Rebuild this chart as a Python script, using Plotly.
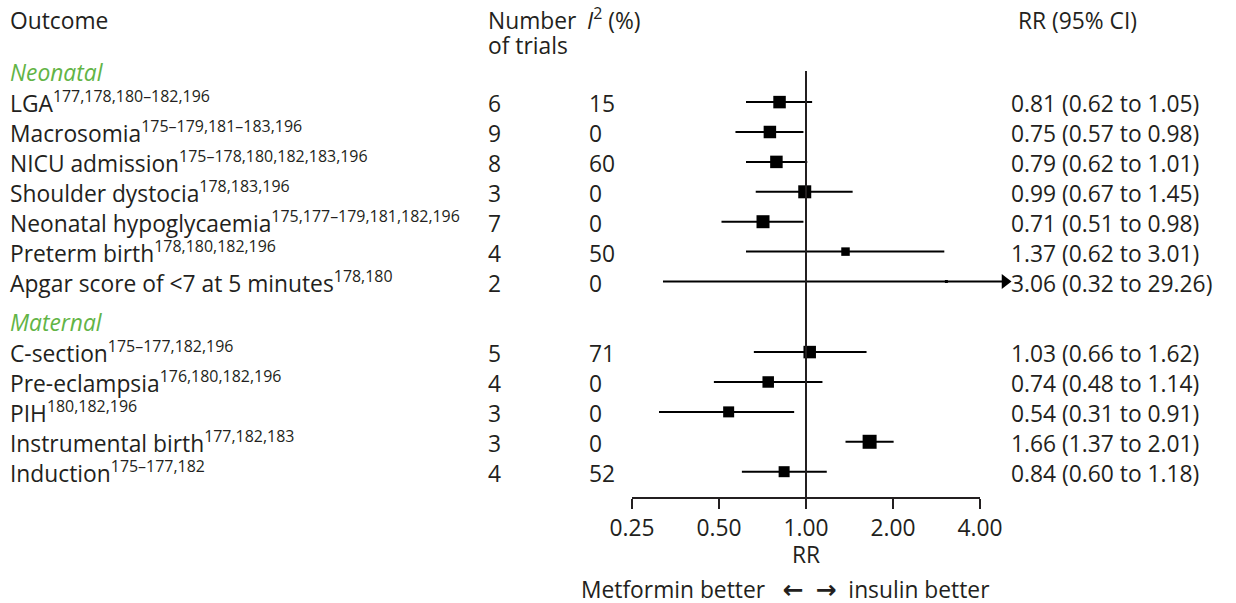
import math
import plotly.graph_objects as go

# ---------------- data ----------------
outcomes = ["LGA", "Macrosomia", "NICU admission", "Shoulder dystocia",
            "Neonatal hypoglycaemia", "Preterm birth", "Apgar score of &lt;7 at 5 minutes",
            "C-section", "Pre-eclampsia", "PIH", "Instrumental birth", "Induction"]
refs = ["177,178,180–182,196", "175–179,181–183,196", "175–178,180,182,183,196",
        "178,183,196", "175,177–179,181,182,196", "178,180,182,196", "178,180",
        "175–177,182,196", "176,180,182,196", "180,182,196", "177,182,183", "175–177,182"]
groups = ["Neonatal"] * 7 + ["Maternal"] * 5
n_trials = [6, 9, 8, 3, 7, 4, 2, 5, 4, 3, 3, 4]
i2 = [15, 0, 60, 0, 0, 50, 0, 71, 0, 0, 0, 52]
rr = [0.81, 0.75, 0.79, 0.99, 0.71, 1.37, 3.06, 1.03, 0.74, 0.54, 1.66, 0.84]
lo = [0.62, 0.57, 0.62, 0.67, 0.51, 0.62, 0.32, 0.66, 0.48, 0.31, 1.37, 0.60]
hi = [1.05, 0.98, 1.01, 1.45, 0.98, 3.01, 29.26, 1.62, 1.14, 0.91, 2.01, 1.18]
tick_vals = [0.25, 0.5, 1, 2, 4]
tick_text = ["0.25", "0.50", "1.00", "2.00", "4.00"]

# ---------------- style / layout ----------------
marker_sizes = [12.5, 12.5, 12.5, 13, 13, 8.5, 3, 12.5, 11.5, 11, 14, 11]
TXT = "#231f20"
GREEN = "#62b446"
FONT = "Open Sans"
FS = 22.8
W, H = 1236, 603
L, R, T, B = 632, 216, 71, 105
plot_w = W - L - R
plot_h = H - T - B
X_MIN, X_MAX = 0.25, 4 * 2 ** (40 / 87)   # display range (plot extends past 4 for the arrow)
ARROW_END = 4 * 2 ** (25 / 87)             # clip point for off-scale CIs
GROUP_GAP = 0.36


def pxx(px):
    return (px - L) / plot_w


def pxy(py):
    return (H - B - py) / plot_h


# row positions (layout)
row_y = []
header_y = {}
pos = -1.0
prev = None
for g in groups:
    if g != prev:
        pos += 1 + (GROUP_GAP if prev is not None else 0)
        header_y[g] = pos
        prev = g
    pos += 1
    row_y.append(pos)
y_top = -0.04
y_bot = row_y[-1] + 0.88

fig = go.Figure()

# CI lines
cx, cy = [], []
for l, h, y in zip(lo, hi, row_y):
    cx += [l, min(h, ARROW_END), None]
    cy += [y, y, None]
fig.add_trace(go.Scatter(x=cx, y=cy, mode="lines", line=dict(color="black", width=2),
                         hoverinfo="skip", showlegend=False))
# arrows for clipped CIs
ax_, ay_ = [], []
for h, y in zip(hi, row_y):
    if h > ARROW_END:
        ax_.append(ARROW_END)
        ay_.append(y)
fig.add_trace(go.Scatter(x=ax_, y=ay_, mode="markers",
                         marker=dict(symbol="triangle-right", size=13, color="black",
                                     line=dict(width=0)),
                         cliponaxis=False, hoverinfo="skip", showlegend=False))
# point estimates
fig.add_trace(go.Scatter(x=rr, y=row_y, mode="markers",
                         marker=dict(symbol="square", size=marker_sizes, color="black",
                                     opacity=1, line=dict(width=0)),
                         cliponaxis=False, showlegend=False))

ann = []


def text(x_px, y, s, color=TXT, anchor="left", yref="y"):
    ann.append(dict(x=pxx(x_px), xref="paper", y=y, yref=yref, text=s, showarrow=False,
                    xanchor=anchor, yanchor="middle", borderpad=0, borderwidth=0,
                    font=dict(family=FONT, size=FS, color=color)))


# headers
text(10, pxy(20), "Outcome", yref="paper")
text(488, pxy(20), "Number", yref="paper")
text(488, pxy(46), "of trials", yref="paper")
text(587, pxy(19), "<i>I</i><sup>2</sup> (%)", yref="paper")
text(1018, pxy(20), "RR (95% CI)", yref="paper")
for g, y in header_y.items():
    text(10, y, f"<i>{g}</i>", color=GREEN)

for name, rf, n, i, r_, l, h, y in zip(outcomes, refs, n_trials, i2, rr, lo, hi, row_y):
    text(10, y, f"{name}<sup>{rf}</sup>")
    text(488, y + 0.05, str(n))
    text(589, y + 0.05, str(i))
    text(1011, y + 0.05, f"{r_:.2f} ({l:.2f} to {h:.2f})")

# axis title and direction label
text(806, pxy(554), "RR", anchor="center", yref="paper")
arrow_style = "font-family:DejaVu Sans;font-size:25px;font-weight:bold"
NB = "\u00a0"
text(581, pxy(589),
     f"Metformin better{NB * 3}<span style='{arrow_style}'>\u2190</span>{NB * 2}"
     f"<span style='{arrow_style}'>\u2192</span>{NB * 2}insulin better",
     yref="paper")

shapes = [
    dict(type="line", xref="x", yref="paper", x0=1, x1=1, y0=0, y1=1,
         line=dict(color=TXT, width=2)),
    dict(type="line", xref="x", yref="paper", x0=tick_vals[0], x1=tick_vals[-1], y0=0, y1=0,
         line=dict(color=TXT, width=2)),
]

fig.update_layout(
    width=W, height=H,
    margin=dict(l=L, r=R, t=T, b=B, autoexpand=False),
    paper_bgcolor="white", plot_bgcolor="white",
    font=dict(family=FONT, size=FS, color=TXT),
    annotations=ann, shapes=shapes,
    xaxis=dict(type="log", range=[math.log10(X_MIN), math.log10(X_MAX)],
               tickvals=tick_vals, ticktext=tick_text, ticks="outside", ticklen=10,
               tickwidth=2, tickcolor=TXT, showline=False, showgrid=False, zeroline=False,
               tickfont=dict(family=FONT, size=FS, color=TXT), fixedrange=True),
    yaxis=dict(range=[y_bot, y_top], showticklabels=False, showgrid=False, zeroline=False,
               showline=False, ticks="", fixedrange=True),
)

fig.write_html("out.html", config={"displayModeBar": False},
               post_script="document.body.style.margin='0';document.body.style.padding='0';")
